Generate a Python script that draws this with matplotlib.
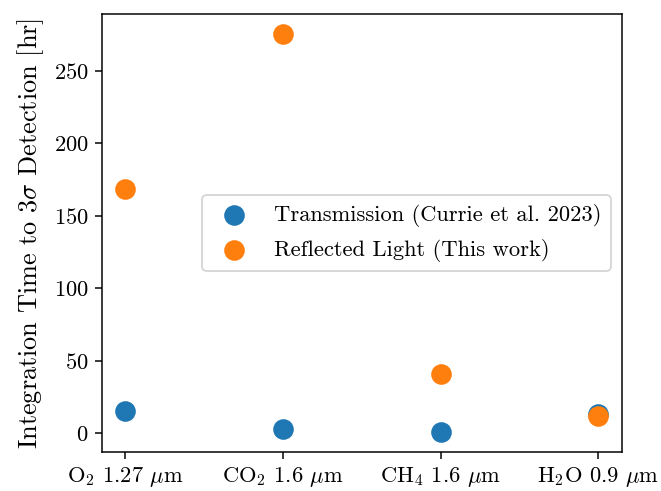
import matplotlib
matplotlib.use('Agg')
import matplotlib.pyplot as plt

# шрифт в стиле LaTeX (Computer Modern)
plt.rcParams['font.family'] = 'serif'
plt.rcParams['font.serif'] = ['cmr10']
plt.rcParams['mathtext.fontset'] = 'cm'
plt.rcParams['axes.formatter.use_mathtext'] = True
plt.rcParams['axes.unicode_minus'] = False
plt.rcParams['font.size'] = 12

# Данные: молекулы и время интеграции (часы)
molecules = [r'O$_2$ 1.27 $\mu$m', r'CO$_2$ 1.6 $\mu$m',
             r'CH$_4$ 1.6 $\mu$m', r'H$_2$O 0.9 $\mu$m']
transmission = [15.2, 2.8, 0.7, 13.2]
reflected = [168.3, 275.6, 40.9, 11.8]

dpi = 135
fig = plt.figure(figsize=(661 / dpi, 491 / dpi), dpi=dpi)
ax = fig.add_axes([0.154, 0.0794, 0.787, 0.8921])

x = list(range(len(molecules)))
ax.scatter(x, transmission, s=100, color='#1f77b4',
           label='Transmission (Currie et al. 2023)')
ax.scatter(x, reflected, s=100, color='#ff7f0e',
           label='Reflected Light (This work)')

ax.set_xticks(x)
ax.set_xticklabels(molecules)
ax.set_ylabel(r'Integration Time to 3$\sigma$ Detection [hr]', fontsize=14)
ax.legend(loc='center right')

fig.savefig('out.png', dpi=dpi)
